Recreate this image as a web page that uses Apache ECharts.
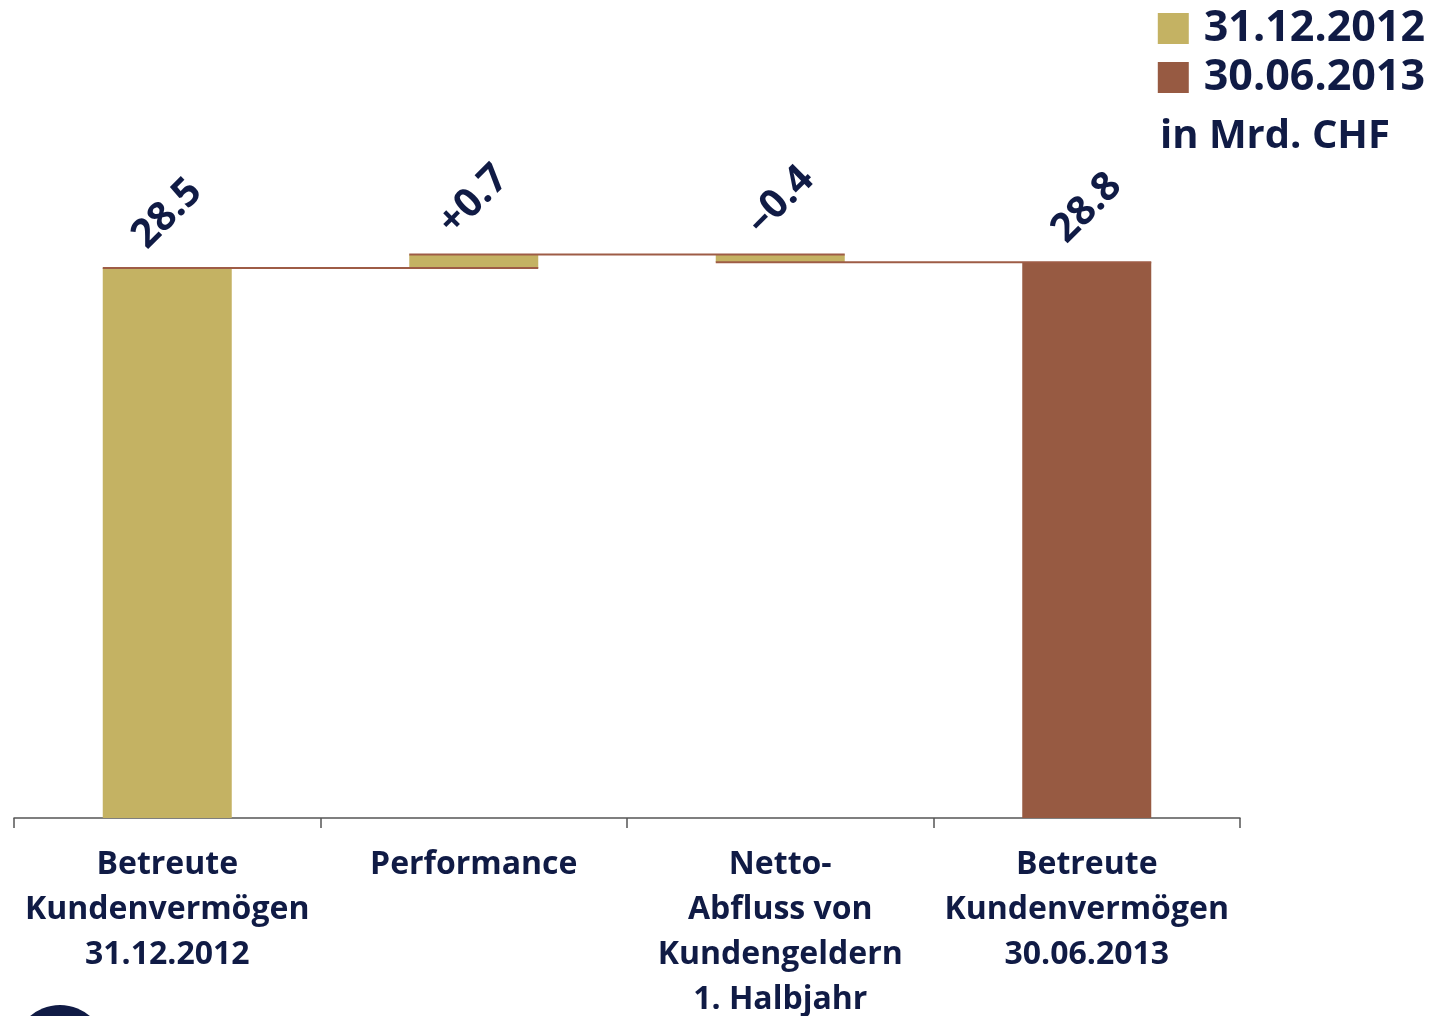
<!DOCTYPE html>
<html>
<head>
<meta charset="utf-8">
<script src="https://cdn.jsdelivr.net/npm/echarts@6/dist/echarts.min.js"></script>
<style>
  html, body { margin: 0; padding: 0; background: #ffffff; }
  #chart { width: 1438px; height: 1016px; }
</style>
</head>
<body>
<div id="chart"></div>
<script>
// ---- Data ----
const categories = [
  'Betreute\nKundenvermögen\n31.12.2012',
  'Performance',
  'Netto-\nAbfluss von\nKundengeldern\n1. Halbjahr',
  'Betreute\nKundenvermögen\n30.06.2013'
];
// step type: 'total' bars start at zero, 'delta' bars float
const stepTypes = ['total', 'delta', 'delta', 'total'];
const stepValues = [28.5, 0.7, -0.4, 28.8];
const legendNames = ['31.12.2012', '30.06.2013'];
const unitText = 'in Mrd. CHF';

// ---- Styles ----
const NAVY = '#101b45';
const GOLD = '#c4b263';
const BROWN = '#975a42';
const LINE = '#9e5c46';
const FONT = '"Open Sans", "Noto Sans", sans-serif';
const BAR_W = 129;

// ---- Build waterfall series from data ----
const baseData = [], goldData = [], brownData = [], labelText = [];
const connectors = [];
let running = 0;
stepValues.forEach((v, i) => {
  if (stepTypes[i] === 'total') {
    baseData.push(0);
    if (i === stepValues.length - 1) { goldData.push('-'); brownData.push(v); }
    else { goldData.push(v); brownData.push('-'); }
    running = v;
    labelText.push(v.toFixed(1));
  } else {
    const lo = v >= 0 ? running : running + v;
    baseData.push(lo);
    goldData.push(Math.abs(v));
    brownData.push('-');
    running = running + v;
    labelText.push((v >= 0 ? '+' : '\u2013') + Math.abs(v).toFixed(1));
  }
});
// connector levels: level reached after each step, linking bar i to bar i+1
(function () {
  let lvl = 0;
  stepValues.forEach((v, i) => {
    lvl = stepTypes[i] === 'total' ? v : lvl + v;
    if (i < stepValues.length - 1) connectors.push([i, i + 1, +lvl.toFixed(2)]);
  });
})();

const labelStyle = {
  show: true,
  position: 'top',
  distance: 54,
  rotate: 45,
  align: 'center',
  verticalAlign: 'middle',
  color: NAVY,
  fontFamily: FONT,
  fontWeight: 'bold',
  fontSize: 40,
  formatter: p => labelText[p.dataIndex]
};

const chart = echarts.init(document.getElementById('chart'), null, { renderer: 'canvas' });
chart.setOption({
  animation: false,
  backgroundColor: '#ffffff',
  legend: {
    right: 8,
    top: 2,
    orient: 'vertical',
    itemWidth: 31,
    itemHeight: 31,
    itemGap: 6,
    icon: 'rect',
    data: legendNames,
    textStyle: { color: NAVY, fontFamily: FONT, fontWeight: 'bold', fontSize: 43, padding: [0, 0, 0, 10] }
  },
  graphic: [
    {
      type: 'text', left: 1160, top: 117,
      style: { text: unitText, fill: NAVY, font: 'bold 40px ' + FONT }
    },
    {
      type: 'circle', shape: { cx: 60, cy: 1051, r: 46 },
      style: { fill: NAVY }
    }
  ],
  grid: { left: 14, right: 198, top: 100, bottom: 198, containLabel: false, outerBoundsMode: 'none' },
  xAxis: {
    type: 'category',
    data: categories,
    boundaryGap: true,
    axisLine: { show: true, lineStyle: { color: '#555', width: 1.5 } },
    axisTick: { show: true, length: 10, lineStyle: { color: '#555', width: 1.5 } },
    axisLabel: {
      interval: 0,
      margin: 24,
      color: NAVY,
      fontFamily: FONT,
      fontWeight: 'bold',
      fontSize: 32,
      lineHeight: 45,
      align: 'center'
    }
  },
  yAxis: {
    type: 'value', min: 0, max: 37.2, show: false, splitLine: { show: false }
  },
  series: [
    {
      name: 'base', type: 'bar', stack: 'wf', barWidth: BAR_W,
      itemStyle: { color: 'transparent' }, data: baseData, silent: true
    },
    {
      name: legendNames[0], type: 'bar', stack: 'wf', barWidth: BAR_W,
      itemStyle: { color: GOLD }, data: goldData, label: labelStyle
    },
    {
      name: legendNames[1], type: 'bar', stack: 'wf', barWidth: BAR_W,
      itemStyle: { color: BROWN }, data: brownData, label: labelStyle
    },
    {
      name: 'connectors', type: 'custom', z: 5,
      encode: { x: [0, 1], y: 2 },
      data: connectors,
      renderItem: function (params, api) {
        const a = api.coord([api.value(0), api.value(2)]);
        const b = api.coord([api.value(1), api.value(2)]);
        return {
          type: 'line',
          shape: { x1: a[0] - BAR_W / 2, y1: a[1], x2: b[0] + BAR_W / 2, y2: b[1] },
          style: { stroke: LINE, lineWidth: 2 }
        };
      }
    }
  ]
});
</script>
</body>
</html>
